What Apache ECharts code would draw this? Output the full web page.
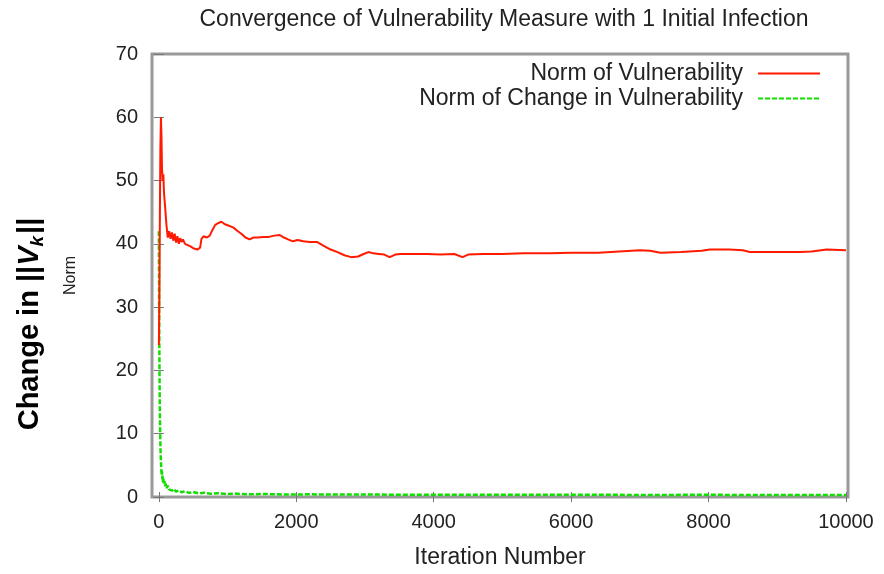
<!DOCTYPE html>
<html>
<head>
<meta charset="utf-8">
<script src="https://cdn.jsdelivr.net/npm/echarts@6/dist/echarts.min.js"></script>
<style>html,body{margin:0;padding:0;background:#fff}#c{width:884px;height:574px}</style>
</head>
<body>
<div id="c"></div>
<script>
const titleText = 'Convergence of Vulnerability Measure with 1 Initial Infection';
const xTicks = [0, 2000, 4000, 6000, 8000, 10000];
const yTicks = [0, 10, 20, 30, 40, 50, 60, 70];
const seriesNames = ['Norm of Vulnerability', 'Norm of Change in Vulnerability'];

// Norm of Vulnerability: [iteration, value]
const normVuln = [
[0,24],[8,32],[15,45],[22,55],[30,60],[38,57],[45,52],[55,50],[65,51],[75,48],[90,46],[110,43],[130,41],[150,42],[170,40.8],[190,41.8],[210,40.5],[230,41.6],[250,40.2],[270,41.2],[290,40.0],[310,40.9],[330,40.3],[350,40.7],[380,40.0],[420,39.8],[460,39.6],[500,39.3],[560,39.1],[600,39.4],[620,40.8],[650,41.2],[700,41.0],[740,41.3],[780,42.2],[820,43.0],[870,43.3],[910,43.5],[960,43.1],[1010,42.9],[1080,42.6],[1150,42.0],[1200,41.6],[1260,41.0],[1320,40.7],[1380,41.0],[1440,41.0],[1520,41.1],[1600,41.1],[1680,41.3],[1760,41.4],[1820,41.0],[1880,40.7],[1950,40.4],[2020,40.6],[2100,40.4],[2200,40.3],[2300,40.3],[2400,39.7],[2500,39.1],[2600,38.7],[2700,38.2],[2800,37.9],[2900,38.0],[2980,38.4],[3050,38.7],[3120,38.5],[3200,38.4],[3280,38.3],[3360,37.9],[3440,38.3],[3520,38.4],[3700,38.4],[3900,38.4],[4100,38.3],[4300,38.4],[4420,37.9],[4500,38.3],[4720,38.4],[5000,38.4],[5300,38.5],[5700,38.5],[6000,38.6],[6400,38.6],[6700,38.8],[7000,39.0],[7150,38.9],[7300,38.6],[7600,38.7],[7900,38.9],[8020,39.1],[8300,39.1],[8500,39.0],[8600,38.7],[9000,38.7],[9330,38.7],[9500,38.8],[9720,39.1],[10000,39.0]
];

// Norm of Change in Vulnerability: [iteration, value]
const normChange = [
[0,42],[4,30],[8,22],[12,16],[16,12],[20,9.5],[25,7],[30,5.6],[35,4.4],[40,3.6],[45,4.1],[50,2.9],[55,3.4],[60,2.4],[65,2.9],[70,2.0],[80,2.5],[90,1.7],[100,2.1],[115,1.4],[130,1.8],[150,1.2],[170,1.5],[190,1.0],[220,1.25],[250,0.85],[290,1.05],[330,0.75],[380,0.9],[440,0.65],[500,0.78],[580,0.58],[660,0.68],[760,0.5],[860,0.6],[980,0.46],[1100,0.54],[1300,0.42],[1500,0.48],[1800,0.4],[2200,0.42],[2600,0.38],[3000,0.4],[3500,0.36],[4000,0.37],[5000,0.34],[6000,0.35],[7000,0.33],[8000,0.34],[9000,0.32],[10000,0.33]
];

const FONT = 'Liberation Sans';
const chart = echarts.init(document.getElementById('c'), null, {renderer: 'canvas'});

const tickStyle = {show: true, inside: true, length: 5, lineStyle: {color: '#777', width: 1}};
const plain = v => String(v);

chart.setOption({
  animation: false,
  backgroundColor: '#fff',
  title: {
    text: titleText, left: 499, top: 3, textAlign: 'center',
    textStyle: {fontFamily: FONT, fontSize: 23, fontWeight: 'normal', color: '#222'}
  },
  legend: {
    orient: 'vertical', align: 'right', right: 58, top: 56,
    itemWidth: 62, itemHeight: 14, itemGap: 0,
    data: seriesNames,
    itemStyle: {opacity: 0},
    textStyle: {fontFamily: FONT, fontSize: 23, color: '#222', lineHeight: 25, padding: [0, 10, 0, 0]}
  },
  grid: {left: 152, top: 54, width: 696, height: 445, show: true, borderColor: '#999', borderWidth: 3, backgroundColor: 'transparent'},
  xAxis: [{
    type: 'value', min: -100, max: 10030, position: 'bottom',
    name: 'Iteration Number', nameLocation: 'middle', nameGap: 49,
    nameTextStyle: {fontFamily: FONT, fontSize: 23, color: '#222'},
    axisLine: {show: false}, splitLine: {show: false},
    axisTick: Object.assign({customValues: xTicks}, tickStyle),
    axisLabel: {customValues: xTicks, formatter: plain, fontFamily: FONT, fontSize: 20, color: '#222', margin: 15}
  }, {
    type: 'value', min: -100, max: 10030, position: 'top',
    axisLine: {show: false}, splitLine: {show: false},
    axisTick: Object.assign({customValues: xTicks}, tickStyle),
    axisLabel: {show: false}
  }],
  yAxis: [{
    type: 'value', min: 0, max: 70, position: 'left',
    name: 'Norm', nameLocation: 'middle', nameGap: 73, nameRotate: 90,
    nameTextStyle: {fontFamily: FONT, fontSize: 16, color: '#222'},
    axisLine: {show: false}, splitLine: {show: false},
    axisTick: Object.assign({customValues: yTicks}, tickStyle),
    axisLabel: {customValues: yTicks, formatter: plain, fontFamily: FONT, fontSize: 20, color: '#222', margin: 14}
  }, {
    type: 'value', min: 0, max: 70, position: 'right',
    axisLine: {show: false}, splitLine: {show: false},
    axisTick: Object.assign({customValues: yTicks}, tickStyle),
    axisLabel: {show: false}
  }],
  series: [{
    name: seriesNames[0], type: 'line', data: normVuln, symbol: 'none',
    xAxisIndex: 0, yAxisIndex: 0, z: 3,
    lineStyle: {color: '#ff1a00', width: 2}, itemStyle: {color: '#ff1a00'}
  }, {
    name: seriesNames[1], type: 'line', data: normChange, symbol: 'none',
    xAxisIndex: 0, yAxisIndex: 0, z: 2,
    lineStyle: {color: '#11dd00', width: 2.5, type: [5, 2]}, itemStyle: {color: '#11dd00'}
  }],
  graphic: [{
    type: 'text', x: 30, y: 324, rotation: Math.PI / 2,
    style: {
      text: '{a|Change in ||}{v|V}{k|k}{a|||}',
      textAlign: 'center', textVerticalAlign: 'middle',
      rich: {
        a: {fontFamily: FONT, fontSize: 29, fontWeight: 'bold', fill: '#000', lineHeight: 34},
        v: {fontFamily: FONT, fontSize: 29, fontWeight: 'bold', fontStyle: 'italic', fill: '#000', lineHeight: 34},
        k: {fontFamily: FONT, fontSize: 19, fontWeight: 'bold', fontStyle: 'italic', fill: '#000', lineHeight: 34, verticalAlign: 'bottom', padding: [10, 2, 0, 0]}
      }
    }
  }]
});
</script>
</body>
</html>
